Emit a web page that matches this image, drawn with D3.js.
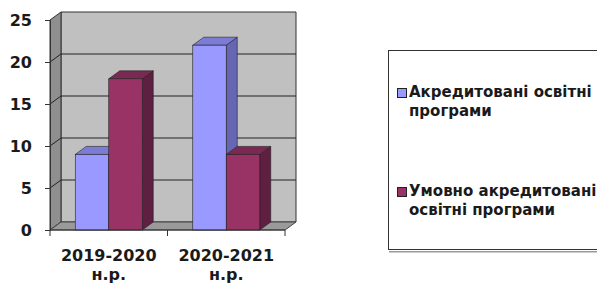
<!DOCTYPE html>
<html>
<head>
<meta charset="utf-8">
<script src="https://cdn.jsdelivr.net/npm/d3@7"></script>
<style>
  html, body { margin: 0; padding: 0; background: #fff; }
  svg { display: block; font-family: "DejaVu Sans", Verdana, sans-serif; font-weight: bold; }
</style>
</head>
<body>
<div id="chart"></div>
<script>
const categories = ["2019-2020 н.р.", "2020-2021 н.р."];
const seriesNames = ["Акредитовані освітні програми", "Умовно акредитовані освітні програми"];
const accredited = [9, 22];
const conditional = [18, 9];
const yTicks = [0, 5, 10, 15, 20, 25];

const legendLines = [["Акредитовані освітні", "програми"], ["Умовно акредитовані", "освітні програми"]];
const colors = [
  { front: "#9999ff", top: "#7c7cd6", side: "#6666b3" },
  { front: "#993366", top: "#7a2952", side: "#5e1f40" }
];

const W = 597, H = 284;
const dx = 11, dy = -8;

const svg = d3.select("#chart").append("svg").attr("width", W).attr("height", H);

const y = d3.scaleLinear().domain([0, 25]).range([230, 20]);
const x = d3.scaleBand().domain(categories).range([50, 285]);
const xs = d3.scaleBand().domain([0, 1]).range([0, x.bandwidth()]).paddingInner(0).paddingOuter(0.754);

const x0 = 50, x1 = 285, y0 = y(0), yTop = y(25);

// walls
svg.append("polygon")
  .attr("points", [[x0 + dx, yTop + dy], [x1 + dx, yTop + dy], [x1 + dx, y0 + dy], [x0 + dx, y0 + dy]].join(" "))
  .attr("fill", "#c0c0c0").attr("stroke", "#333").attr("stroke-width", 1);
svg.append("polygon")
  .attr("points", [[x0, yTop], [x0 + dx, yTop + dy], [x0 + dx, y0 + dy], [x0, y0]].join(" "))
  .attr("fill", "#8f8f8f").attr("stroke", "#333").attr("stroke-width", 1);
svg.append("polygon")
  .attr("points", [[x0, y0], [x1, y0], [x1 + dx, y0 + dy], [x0 + dx, y0 + dy]].join(" "))
  .attr("fill", "#9a9a9a").attr("stroke", "#444").attr("stroke-width", 1);

// gridlines
const grid = svg.append("g");
yTicks.filter(v => v > 0 && v < 25).forEach(v => {
  grid.append("line")
    .attr("x1", x0 + dx).attr("x2", x1 + dx)
    .attr("y1", y(v) + dy).attr("y2", y(v) + dy)
    .attr("stroke", "#222").attr("stroke-width", 1);
  grid.append("line")
    .attr("x1", x0).attr("x2", x0 + dx)
    .attr("y1", y(v)).attr("y2", y(v) + dy)
    .attr("stroke", "#222").attr("stroke-width", 1);
});

// bars
const data = [];
categories.forEach((c, i) => {
  data.push({ cat: c, s: 0, v: accredited[i] });
  data.push({ cat: c, s: 1, v: conditional[i] });
});

const bars = svg.append("g").selectAll("g.bar").data(data).join("g").attr("class", "bar");
bars.each(function (d) {
  const g = d3.select(this);
  const bx0 = x(d.cat) + xs(d.s), bx1 = bx0 + xs.bandwidth();
  const by = y(d.v), bb = y(0);
  const c = colors[d.s];
  g.append("polygon")
    .attr("points", [[bx1, bb], [bx1 + dx, bb + dy], [bx1 + dx, by + dy], [bx1, by]].join(" "))
    .attr("fill", c.side).attr("stroke", "#222").attr("stroke-width", 0.6);
  g.append("polygon")
    .attr("points", [[bx0, by], [bx1, by], [bx1 + dx, by + dy], [bx0 + dx, by + dy]].join(" "))
    .attr("fill", c.top).attr("stroke", "#222").attr("stroke-width", 0.6);
  g.append("rect")
    .attr("x", bx0).attr("y", by).attr("width", bx1 - bx0).attr("height", bb - by)
    .attr("fill", c.front).attr("stroke", "#222").attr("stroke-width", 0.6);
});

// y axis
const yAxis = svg.append("g")
  .attr("transform", `translate(${x0},0)`)
  .call(d3.axisLeft(y).tickValues(yTicks).tickSize(5).tickPadding(13));
yAxis.select(".domain").attr("stroke", "#333");
yAxis.selectAll(".tick line").attr("stroke", "#333");
yAxis.selectAll(".tick text")
  .attr("font-family", "DejaVu Sans, sans-serif")
  .attr("font-weight", "bold").attr("font-size", 16).attr("fill", "#1a1a1a");

// x axis
const xAxis = svg.append("g");
xAxis.append("line").attr("x1", x0).attr("x2", x1).attr("y1", y0).attr("y2", y0).attr("stroke", "#333");
d3.range(categories.length + 1).forEach(i => {
  const tx = x0 + i * x.step();
  xAxis.append("line").attr("x1", tx).attr("x2", tx).attr("y1", y0).attr("y2", y0 + 6).attr("stroke", "#333");
});
categories.forEach(c => {
  const parts = c.split(" ");
  const t = xAxis.append("text")
    .attr("x", x(c) + x.bandwidth() / 2).attr("y", 261)
    .attr("text-anchor", "middle").attr("font-size", 16).attr("fill", "#1a1a1a");
  t.append("tspan").attr("x", x(c) + x.bandwidth() / 2).attr("dy", 0).text(parts[0]);
  t.append("tspan").attr("x", x(c) + x.bandwidth() / 2).attr("dy", 18.5).text(parts[1]);
});

// legend
const lg = svg.append("g");
lg.append("rect").attr("x", 389).attr("y", 251).attr("width", 220).attr("height", 1.5).attr("fill", "#999");
lg.append("rect").attr("x", 388.5).attr("y", 50.5).attr("width", 220).attr("height", 199)
  .attr("fill", "#fff").attr("stroke", "#333").attr("stroke-width", 1);
const legendY = [97, 196];
seriesNames.forEach((name, i) => {
  lg.append("rect").attr("x", 397.5).attr("y", legendY[i] - 8.5).attr("width", 9).attr("height", 9)
    .attr("fill", colors[i].front).attr("stroke", "#222").attr("stroke-width", 1);
  const t = lg.append("text").attr("x", 409).attr("y", legendY[i]).attr("font-size", 15).attr("fill", "#1a1a1a");
  legendLines[i].forEach((line, k) => {
    t.append("tspan").attr("x", 409).attr("dy", k === 0 ? 0 : 18.5).text(line);
  });
});
</script>
</body>
</html>
